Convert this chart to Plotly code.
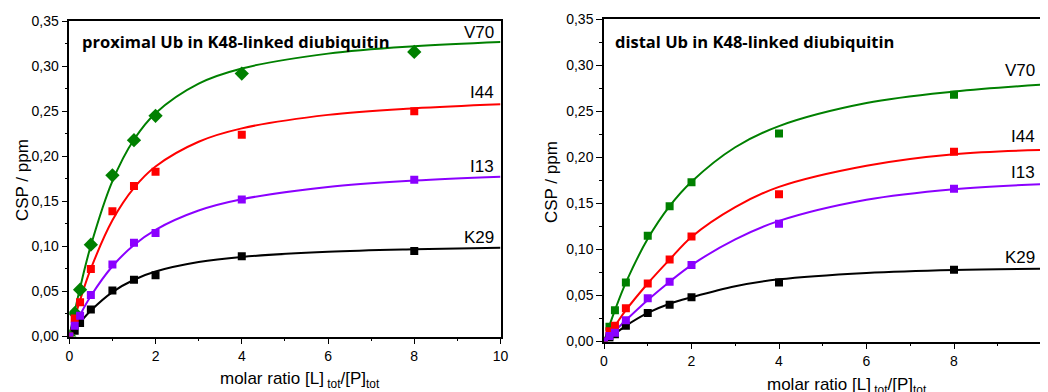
import plotly.graph_objects as go

# ---------------- data ----------------
# measured titration points (molar ratio [L]tot/[P]tot)
x_pts = [0, 0.125, 0.25, 0.5, 1, 1.5, 2, 4, 8]

prox_V70 = [0, 0.026, 0.052, 0.102, 0.179, 0.218, 0.245, 0.292, 0.316]
prox_I44 = [0, 0.020, 0.038, 0.075, 0.139, 0.167, 0.183, 0.224, 0.250]
prox_I13 = [0, 0.012, 0.023, 0.046, 0.080, 0.104, 0.115, 0.152, 0.174]
prox_K29 = [0, 0.0065, 0.015, 0.030, 0.051, 0.063, 0.068, 0.089, 0.095]

dist_V70 = [0, 0.016, 0.034, 0.064, 0.115, 0.147, 0.173, 0.226, 0.268]
dist_I44 = [0, 0.011, 0.017, 0.036, 0.063, 0.089, 0.114, 0.160, 0.206]
dist_I13 = [0, 0.006, 0.0096, 0.023, 0.047, 0.065, 0.083, 0.128, 0.166]
dist_K29 = [0, 0.004, 0.008, 0.017, 0.031, 0.040, 0.048, 0.064, 0.078]

# fitted curves
x_fit = [0, 0.25, 0.5, 1, 1.5, 2, 3, 4, 6, 8, 10]

prox_V70_fit = [0, 0.054, 0.101, 0.1725, 0.2187, 0.248, 0.2808, 0.2976, 0.3141, 0.3223, 0.327]
prox_I44_fit = [0, 0.0404, 0.0753, 0.129, 0.165, 0.1888, 0.2163, 0.2311, 0.2461, 0.2535, 0.258]
prox_I13_fit = [0, 0.024, 0.045, 0.078, 0.1016, 0.1185, 0.1399, 0.1524, 0.166, 0.1731, 0.1775]
prox_K29_fit = [0, 0.0154, 0.0288, 0.0493, 0.063, 0.0721, 0.0826, 0.0883, 0.094, 0.0968, 0.0985]

dist_V70_fit = [0, 0.034, 0.064, 0.1115, 0.147, 0.1735, 0.211, 0.234, 0.259, 0.2715, 0.279]
dist_I44_fit = [0, 0.017, 0.034, 0.063, 0.089, 0.1136, 0.146, 0.168, 0.191, 0.2035, 0.208]
dist_I13_fit = [0, 0.0115, 0.023, 0.045, 0.065, 0.083, 0.111, 0.131, 0.154, 0.1655, 0.171]
dist_K29_fit = [0, 0.0085, 0.017, 0.031, 0.041, 0.048, 0.060, 0.0675, 0.0745, 0.0778, 0.079]

labels = ["V70", "I44", "I13", "K29"]
prox_label_y = [0.338, 0.271, 0.189, 0.110]
dist_label_y = [0.294, 0.223, 0.1835, 0.0915]

titles = ["proximal Ub in K48-linked diubiquitin", "distal Ub in K48-linked diubiquitin"]
x_title = "molar ratio [L]<sub> tot</sub>/[P]<sub>tot</sub>"
y_title = "CSP / ppm"
x_ticks = [0, 2, 4, 6, 8, 10]

# ---------------- styling ----------------
colors = {"V70": "#008000", "I44": "#FF0000", "I13": "#8B00FF", "K29": "#000000"}
TICKFONT = dict(family="Liberation Sans, Arial", size=14, color="black")
LABELFONT = dict(family="Liberation Sans, Arial", size=17, color="black")

fig = go.Figure()

panels = [
    ("x", "y", {"V70": (prox_V70, prox_V70_fit), "I44": (prox_I44, prox_I44_fit),
                "I13": (prox_I13, prox_I13_fit), "K29": (prox_K29, prox_K29_fit)}, True),
    ("x2", "y2", {"V70": (dist_V70, dist_V70_fit), "I44": (dist_I44, dist_I44_fit),
                  "I13": (dist_I13, dist_I13_fit), "K29": (dist_K29, dist_K29_fit)}, False),
]

order = ["K29", "V70", "I44", "I13"]
for xa, ya, series, diamond in panels:
    for name in order:
        pts, fit = series[name]
        fig.add_trace(go.Scatter(
            x=x_fit, y=fit, mode="lines",
            line=dict(color=colors[name], width=2, shape="spline", smoothing=1.0),
            xaxis=xa, yaxis=ya, showlegend=False, hoverinfo="skip"))
    for name in order:
        pts, fit = series[name]
        sym = "diamond" if (diamond and name == "V70") else "square"
        size = 11 if sym == "diamond" else 8
        fig.add_trace(go.Scatter(
            x=x_pts, y=pts, mode="markers",
            marker=dict(symbol=sym, size=size, color=colors[name], line=dict(width=0)),
            xaxis=xa, yaxis=ya, showlegend=False))

# the page body adds an 8 px margin at top-left; the figure fills the rest of the window
OFF = 8
W, H = 1048 - OFF, 392 - OFF
def px_x(p):
    return (p - OFF) / W
def px_y(p):
    return 1 - (p - OFF) / H

common_x = dict(range=[0, 10], tickvals=x_ticks, ticks="outside", ticklen=6, tickwidth=1.2,
                tickcolor="black", showline=True, linecolor="black", linewidth=1.5, mirror=True,
                showgrid=False, zeroline=False, tickfont=TICKFONT, automargin=False,
                minor=dict(dtick=1, ticks="outside", ticklen=3, tickcolor="black", tickwidth=1))
common_y = dict(range=[0, 0.35], dtick=0.05, tickformat=".2f", ticks="outside", ticklen=6, tickwidth=1.2,
                tickcolor="black", showline=True, linecolor="black", linewidth=1.5, mirror=True,
                showgrid=False, zeroline=False, tickfont=TICKFONT, automargin=False,
                minor=dict(dtick=0.025, ticks="outside", ticklen=3, tickcolor="black", tickwidth=1))

fig.update_layout(
    width=W, height=H, margin=dict(l=0, r=0, t=0, b=0, pad=0, autoexpand=False),
    paper_bgcolor="white", plot_bgcolor="white",
    separators=", ",
    xaxis=dict(domain=[px_x(69.3), px_x(500.5)], anchor="y", **common_x),
    yaxis=dict(domain=[px_y(336.5), px_y(21.3)], anchor="x", **common_y),
    xaxis2=dict(domain=[px_x(604), px_x(1041.5)], anchor="y2", **common_x),
    yaxis2=dict(domain=[px_y(341.5), px_y(19.3)], anchor="x2", **common_y),
)

ann = []
# series labels
for i, name in enumerate(labels):
    ann.append(dict(x=9.9, y=prox_label_y[i], xref="x", yref="y", text=name, showarrow=False,
                    xanchor="right", yanchor="middle", font=LABELFONT))
    ann.append(dict(x=9.9, y=dist_label_y[i], xref="x2", yref="y2", text=name, showarrow=False,
                    xanchor="right", yanchor="middle", font=LABELFONT))
# panel titles
ann.append(dict(x=px_x(80), y=px_y(41), xref="paper", yref="paper", text="<b>" + titles[0] + "</b>",
                showarrow=False, xanchor="left", yanchor="middle",
                font=dict(family="Open Sans", size=16.5, color="black")))
ann.append(dict(x=px_x(613), y=px_y(42), xref="paper", yref="paper", text="<b>" + titles[1] + "</b>",
                showarrow=False, xanchor="left", yanchor="middle",
                font=dict(family="Open Sans", size=16.5, color="black")))
# axis titles
for xc, yc in [(px_x(22), px_y(180)), (px_x(551), px_y(182))]:
    ann.append(dict(x=xc, y=yc, xref="paper", yref="paper", text=y_title, textangle=-90, showarrow=False,
                    xanchor="center", yanchor="middle", font=LABELFONT))
for xc, yc in [(px_x(300), px_y(380)), (px_x(847), px_y(386))]:
    ann.append(dict(x=xc, y=yc, xref="paper", yref="paper", text=x_title, showarrow=False,
                    xanchor="center", yanchor="middle", font=LABELFONT))

fig.update_layout(annotations=ann)
fig.write_html("out.html")
